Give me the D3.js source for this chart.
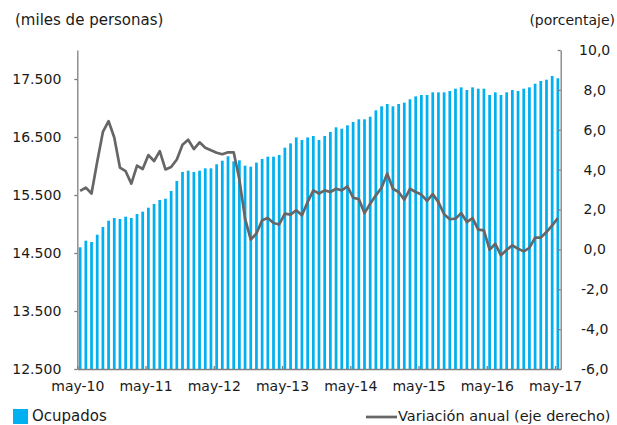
<!DOCTYPE html>
<meta charset="utf-8">
<style>
body, html {
  margin: 0;
  background: #fff;
}
text {
  font-family: "DejaVu Sans", "Liberation Sans", Arial, sans-serif;
  font-size: 14px;
  fill: #1a1a1a;
}
.axis path, .axis line {
  stroke: #7f7f7f;
  stroke-width: 1.3px;
}
</style>
<svg></svg>
<script src="https://d3js.org/d3.v7.min.js"></script>
<script>

// ocupados, miles de personas (may-10 .. may-17)
var ocupados = [
  14598, 14712, 14690, 14815, 14948, 15057, 15103, 15086, 15126, 15103, 15172, 15212,
  15281, 15345, 15414, 15436, 15569, 15741, 15897, 15919, 15897, 15919, 15960, 15960,
  16029, 16091, 16167, 16080, 16098, 16006, 15989, 16058, 16121, 16161, 16161, 16190,
  16316, 16390, 16493, 16448, 16493, 16517, 16448, 16517, 16586, 16667, 16643, 16701,
  16759, 16805, 16805, 16850, 16960, 17029, 17069, 17029, 17069, 17092, 17150, 17200,
  17224, 17224, 17270, 17270, 17270, 17293, 17333, 17356, 17310, 17356, 17333, 17333,
  17224, 17270, 17224, 17270, 17310, 17293, 17333, 17356, 17419, 17466, 17488, 17552,
  17512
];

// variacion anual, % (eje derecho)
var variacion = [
  2.93, 3.10, 2.80, 4.40, 5.89, 6.43, 5.61, 4.10, 3.92, 3.30, 4.20, 4.03,
  4.73, 4.43, 4.93, 4.01, 4.13, 4.51, 5.25, 5.50, 5.03, 5.37, 5.10, 4.97,
  4.85, 4.77, 4.87, 4.87, 3.50, 1.54, 0.49, 0.80, 1.46, 1.57, 1.32, 1.25,
  1.79, 1.74, 1.96, 1.71, 2.37, 2.96, 2.80, 2.96, 2.88, 3.04, 2.96, 3.16,
  2.59, 2.52, 1.82, 2.29, 2.71, 3.09, 3.80, 3.04, 2.88, 2.49, 3.04, 2.88,
  2.75, 2.43, 2.77, 2.37, 1.76, 1.51, 1.54, 1.82, 1.37, 1.57, 0.99, 0.95,
  -0.02, 0.28, -0.30, -0.02, 0.20, 0.03, -0.10, 0.08, 0.59, 0.59, 0.87, 1.20,
  1.57
];

var etiquetasX = ['may-10', 'may-11', 'may-12', 'may-13', 'may-14', 'may-15', 'may-16', 'may-17'];
var ticksIzq = [12500, 13500, 14500, 15500, 16500, 17500];
var ticksDer = [-6, -4, -2, 0, 2, 4, 6, 8, 10];

var W = 617, H = 425;
var mLeft = 77.3, mRight = 560.7, mTop = 50, mBottom = 369;

var loc = d3.formatLocale({decimal: ',', thousands: '.', grouping: [3], currency: ['', ''], minus: '-'});

var svg = d3.select('svg').attr('width', W).attr('height', H);

var meses = d3.range(ocupados.length);

var x = d3.scaleBand().domain(meses).range([mLeft, mRight]).paddingInner(0.52).paddingOuter(0.26);
var xi = d3.scaleLinear().domain([0, ocupados.length]).range([mLeft, mRight]);
var y = d3.scaleLinear().domain([12500, 18000]).range([mBottom, mTop]);
var y2 = d3.scaleLinear().domain([-6, 10]).range([mBottom, mTop]);

// barras
svg.append('g')
  .selectAll('rect')
  .data(ocupados)
  .enter().append('rect')
  .attr('x', function (d, i) { return x(i); })
  .attr('width', x.bandwidth())
  .attr('y', function (d) { return y(d); })
  .attr('height', function (d) { return mBottom - y(d); })
  .attr('fill', '#00b0f0');

// eje izquierdo
var gy = svg.append('g').attr('class', 'axis')
  .attr('transform', 'translate(' + mLeft + ',0)')
  .call(d3.axisLeft(y).tickValues(ticksIzq).tickSize(3).tickSizeOuter(0).tickPadding(13)
    .tickFormat(loc.format(',.0f')));

// eje derecho
var gy2 = svg.append('g').attr('class', 'axis')
  .attr('transform', 'translate(' + mRight + ',0)')
  .call(d3.axisLeft(y2).tickValues(ticksDer).tickSize(3).tickSizeOuter(0)
    .tickFormat(loc.format(',.1f')));
gy2.selectAll('text').attr('text-anchor', 'middle').attr('x', 34);

// eje x
var gx = svg.append('g').attr('class', 'axis')
  .attr('transform', 'translate(0,' + mBottom + ')')
  .call(d3.axisTop(xi).tickValues(d3.range(0, ocupados.length, 12)).tickSize(3).tickSizeOuter(0)
    .tickFormat(function (d, i) { return etiquetasX[i]; }));
gx.selectAll('text').attr('y', 12).attr('dy', '0.71em');

svg.selectAll('.axis text').style('font-size', '14px').attr('fill', '#1a1a1a');
svg.selectAll('.axis .domain').attr('stroke', '#7f7f7f');

// linea
var linea = d3.line()
  .x(function (d, i) { return x(i) + x.bandwidth() / 2; })
  .y(function (d) { return y2(d); });

svg.append('path')
  .datum(variacion)
  .attr('d', linea)
  .attr('fill', 'none')
  .attr('stroke', '#666666')
  .attr('stroke-width', 2.7)
  .attr('stroke-linejoin', 'round');

// titulos
svg.append('text').attr('x', 15).attr('y', 25).style('font-size', '15px').text('(miles de personas)');
svg.append('text').attr('x', 615).attr('y', 25).attr('text-anchor', 'end').text('(porcentaje)');

// leyenda
svg.append('rect').attr('x', 13).attr('y', 409).attr('width', 15).attr('height', 15).attr('fill', '#00b0f0');
svg.append('text').attr('x', 32).attr('y', 420.5).style('font-size', '15px').text('Ocupados');
svg.append('line').attr('x1', 366).attr('x2', 397).attr('y1', 417).attr('y2', 417)
  .attr('stroke', '#666666').attr('stroke-width', 2.7);
svg.append('text').attr('x', 398).attr('y', 420.5).style('font-size', '14.5px').text('Variación anual (eje derecho)');

</script>
